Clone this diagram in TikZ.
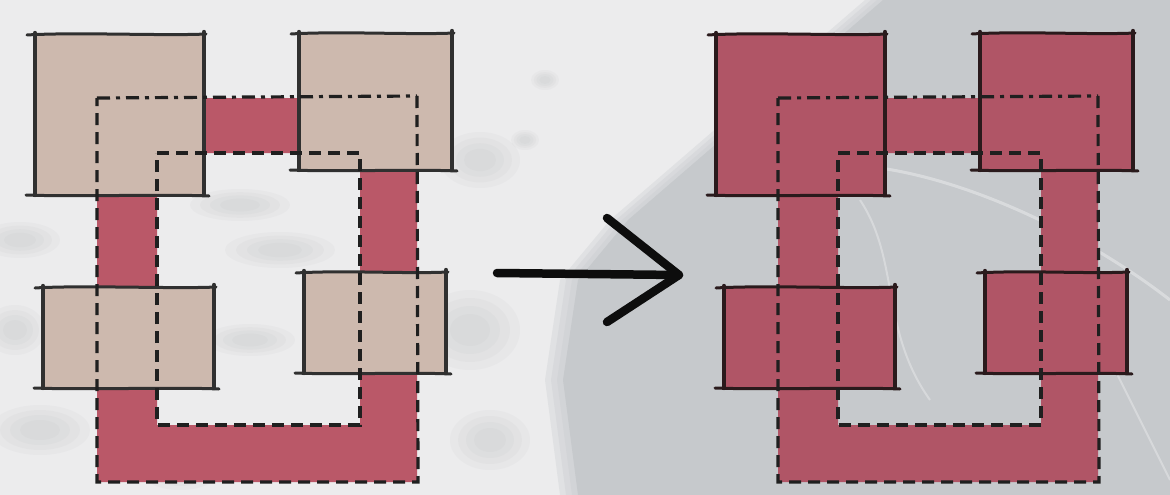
\documentclass[tikz,border=0pt]{standalone}
\usetikzlibrary{calc}
\definecolor{bgl}{HTML}{ECECED}
\definecolor{bgg}{HTML}{C6C9CC}
\definecolor{smudge}{HTML}{A9ACAF}
\definecolor{beige}{HTML}{CDB9AE}
\definecolor{ringred}{HTML}{BA5868}
\definecolor{darkred}{HTML}{B05566}
\definecolor{inkl}{HTML}{303030}
\definecolor{inkr}{HTML}{2A1A1C}
\tikzset{
  edgev/.style={line width=4.4pt, line cap=round},
  edgeh/.style={line width=3pt, line cap=round},
  dashline/.style={line width=3.2pt, dash pattern=on 12pt off 7pt, color=black!88},
  dashdotline/.style={line width=3.2pt, dash pattern=on 13pt off 6pt on 4pt off 6pt, color=black!88},
  arrowline/.style={line width=8.5pt, line cap=round, line join=round, color=black!95},
}
% #1 x1, #2 y1, #3 x2, #4 y2, #5 fill, #6 ink
\newcommand{\skbox}[6]{%
  \fill[#5] (#1,#2) rectangle (#3,#4);
  \draw[edgev,#6] (#1,#2-1) -- (#1,#4);
  \draw[edgev,#6] (#3,#2-2) -- (#3,#4);
  \draw[edgeh,#6] (#1-8,#2+1) .. controls (#1+40,#2-2) and (#3-40,#2+2) .. (#3+2,#2);
  \draw[edgeh,#6] (#1-9,#4) .. controls (#1+40,#4+2) and (#3-40,#4-1) .. (#3+5,#4+1);
}
% soft blob: x, y, rx, ry
\newcommand{\blob}[4]{%
  \foreach \s in {1,0.8,0.6,0.4}{
    \fill[smudge,opacity=0.07] (#1,#2) ellipse ({#3*\s} and {#4*\s});
  }
}
\newcommand{\ringfig}[2]{%
  % ring fill
  \fill[#1,even odd rule] (97,98) rectangle (417,482) (157,153) rectangle (360,425);
  % boxes
  \skbox{35}{34}{204}{195}{#2}{\inkcol}
  \skbox{299}{33}{452}{170}{#2}{\inkcol}
  \skbox{43}{287}{214}{388}{#2}{\inkcol}
  \skbox{304}{272}{446}{373}{#2}{\inkcol}
  % dashed outlines
  \draw[dashdotline] (97,98) -- (417,96);
  \draw[dashline] (417,96) -- (418,482) -- (97,482) -- (97,98);
  \draw[dashline] (157,153) -- (360,153) -- (360,425) -- (157,425) -- cycle;
}
\begin{document}
\begin{tikzpicture}[x=1pt,y=-1pt]
\useasboundingbox (0,0) rectangle (1170,495);
% background
\fill[bgl] (0,0) rectangle (1170,495);
\blob{20}{240}{40}{18}
\blob{15}{330}{30}{25}
\blob{240}{205}{50}{16}
\blob{280}{250}{55}{18}
\blob{250}{340}{45}{16}
\blob{545}{80}{14}{10}
\blob{525}{140}{14}{10}
\blob{480}{160}{40}{28}
\blob{470}{330}{50}{40}
\blob{40}{430}{50}{25}
\blob{180}{470}{40}{20}
\blob{490}{440}{40}{30}
\foreach \a in {0,1,2}{
  \fill[bgg,opacity=0.3] ({865+6*\a},0) -- (1170,0) -- (1170,495) -- ({560+6*\a},495) -- ({545+6*\a},380) -- ({560+6*\a},280) -- ({610+6*\a},220) -- cycle;
}
\fill[bgg] (883,0) -- (1170,0) -- (1170,495) -- (578,495) -- (563,380) -- (578,280) -- (628,220) -- cycle;
\draw[white,opacity=0.35,line width=3pt] (850,165) .. controls (950,170) and (1080,230) .. (1170,300);
\draw[white,opacity=0.3,line width=2pt] (860,200) .. controls (900,260) and (880,330) .. (930,400);
\draw[white,opacity=0.3,line width=2pt] (1100,340) .. controls (1130,400) and (1150,440) .. (1170,480);
% left figure
\def\inkcol{inkl}
\ringfig{ringred}{beige}
% arrow
\coordinate (as) at (497,273);
\coordinate (at) at (679,275);
\coordinate (au) at (607,218);
\coordinate (ad) at (607,322);
\draw[arrowline] (as) -- (at);
\draw[arrowline] (au) -- (at) -- (ad);
% right figure
\def\inkcol{inkr}
\begin{scope}[xshift=681pt]
\ringfig{darkred}{darkred}
\end{scope}
\end{tikzpicture}
\end{document}
